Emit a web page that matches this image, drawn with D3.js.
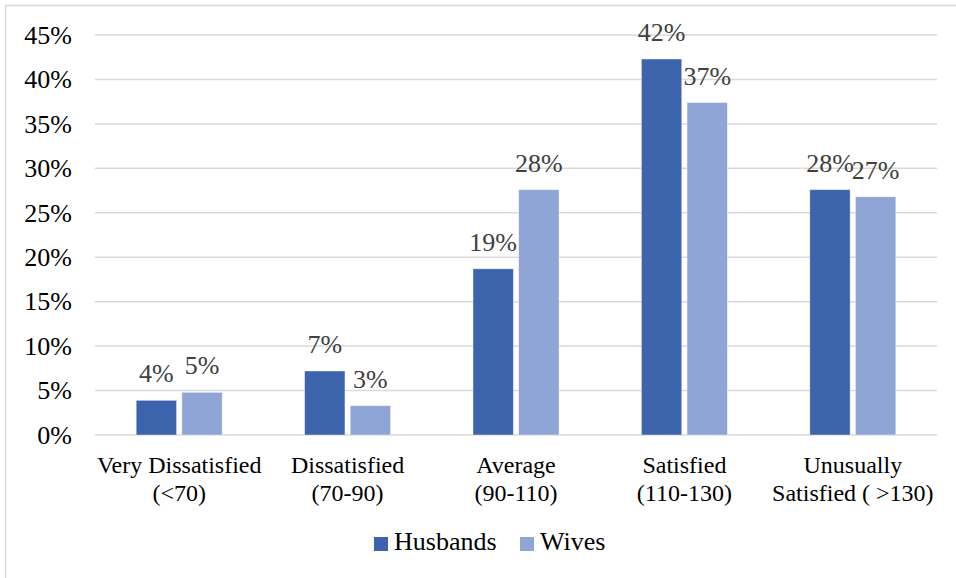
<!DOCTYPE html>
<html>
<head>
<meta charset="utf-8">
<script src="https://cdn.jsdelivr.net/npm/d3@7"></script>
<style>
  body { margin: 0; background: #fff; }
</style>
</head>
<body>
<div id="chart"></div>
<script>
const categories = [
  ["Very Dissatisfied", "(<70)"],
  ["Dissatisfied", "(70-90)"],
  ["Average", "(90-110)"],
  ["Satisfied", "(110-130)"],
  ["Unusually", "Satisfied ( >130)"]
];
const seriesNames = ["Husbands", "Wives"];
const husbands = [3.9, 7.2, 18.7, 42.3, 27.6];
const wives = [4.8, 3.3, 27.6, 37.4, 26.8];
const husbandLabels = ["4%", "7%", "19%", "42%", "28%"];
const wifeLabels = ["5%", "3%", "28%", "37%", "27%"];
const yTicks = [0, 5, 10, 15, 20, 25, 30, 35, 40, 45];

const colors = { Husbands: "#3c64ad", Wives: "#8fa5d5" };
const serif = "Liberation Serif";

const width = 956, height = 578;
const margin = { top: 35, right: 19, bottom: 143, left: 95 };
const innerW = width - margin.left - margin.right;
const innerH = height - margin.top - margin.bottom;

const svg = d3.select("#chart").append("svg")
  .attr("width", width)
  .attr("height", height);

// chart frame
svg.append("rect")
  .attr("x", 5.5).attr("y", 5.5)
  .attr("width", width + 20).attr("height", height + 20)
  .attr("fill", "none")
  .attr("stroke", "#d9d9d9")
  .attr("stroke-width", 1.5);

const g = svg.append("g")
  .attr("transform", "translate(" + margin.left + "," + margin.top + ")");

const x = d3.scaleBand()
  .domain(d3.range(categories.length))
  .range([0, innerW]);

const y = d3.scaleLinear()
  .domain([0, 45])
  .range([innerH, 0]);

const barW = 38, gap = 10;
const xs = d3.scaleBand()
  .domain(seriesNames)
  .range([-(barW + gap / 2), barW + gap / 2])
  .paddingInner(gap / (2 * barW + gap));

// gridlines
g.selectAll(".grid")
  .data(yTicks)
  .enter()
  .append("line")
  .attr("x1", 0).attr("x2", innerW)
  .attr("y1", d => y(d)).attr("y2", d => y(d))
  .attr("stroke", "#d9d9d9")
  .attr("stroke-width", 1.5);

// y axis labels
g.append("g")
  .call(d3.axisLeft(y).tickValues(yTicks).tickFormat(d => d + "%").tickSize(0).tickPadding(23))
  .call(a => a.select(".domain").remove())
  .selectAll("text")
  .attr("fill", "#000")
  .style("font-size", "26px")
  .style("font-family", serif);

const data = categories.map((c, i) => ({
  i: i,
  values: [
    { key: "Husbands", v: husbands[i], label: husbandLabels[i] },
    { key: "Wives", v: wives[i], label: wifeLabels[i] }
  ]
}));

const groups = g.selectAll(".cat")
  .data(data)
  .enter()
  .append("g")
  .attr("transform", d => "translate(" + (x(d.i) + x.bandwidth() / 2) + ",0)");

groups.selectAll("rect")
  .data(d => d.values)
  .enter()
  .append("rect")
  .attr("x", d => xs(d.key))
  .attr("width", xs.bandwidth())
  .attr("y", d => y(d.v))
  .attr("height", d => innerH - y(d.v))
  .attr("fill", d => colors[d.key])
  .attr("stroke", "#fff")
  .attr("stroke-opacity", 0.5)
  .attr("stroke-width", 0.8);

groups.selectAll(".lbl")
  .data(d => d.values)
  .enter()
  .append("text")
  .attr("x", d => xs(d.key) + xs.bandwidth() / 2)
  .attr("y", d => y(d.v) - 18)
  .attr("text-anchor", "middle")
  .attr("fill", "#404040")
  .style("font-size", "26px")
  .style("font-family", serif)
  .text(d => d.label);

// x labels
const xl = g.selectAll(".xl")
  .data(categories)
  .enter()
  .append("text")
  .attr("text-anchor", "middle")
  .attr("fill", "#000")
  .style("font-size", "24px")
  .style("font-family", serif)
  .attr("transform", (d, i) => "translate(" + (x(i) + x.bandwidth() / 2) + "," + (innerH + 38) + ")");

xl.selectAll("tspan")
  .data(d => d)
  .enter()
  .append("tspan")
  .attr("x", 0)
  .attr("dy", (d, i) => i === 0 ? 0 : 28)
  .style("font-family", serif)
  .text(d => d);

// legend
const legend = svg.append("g")
  .attr("transform", "translate(374,537)");

const items = legend.selectAll(".item")
  .data(seriesNames)
  .enter()
  .append("g")
  .attr("transform", (d, i) => "translate(" + (i * 146) + ",0)");

items.append("rect")
  .attr("width", 14).attr("height", 14)
  .attr("fill", d => colors[d]);

items.append("text")
  .attr("x", 20).attr("y", 13)
  .attr("fill", "#000")
  .style("font-size", "26px")
  .style("font-family", serif)
  .text(d => d);
</script>
</body>
</html>
